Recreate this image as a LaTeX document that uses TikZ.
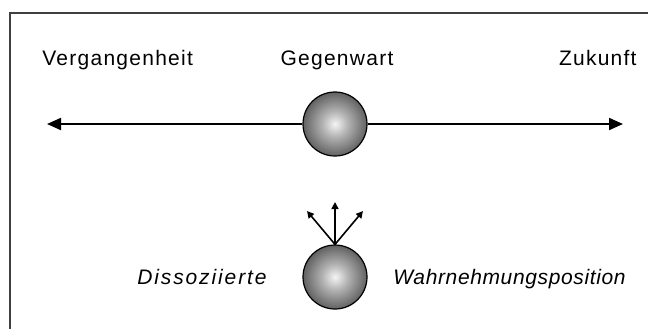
\documentclass[tikz,border=0pt]{standalone}
\usepackage{fontspec}
\setmainfont{Liberation Sans}
\newfontfamily\spacedfont[LetterSpace=6]{Liberation Sans}
\newfontfamily\widefont[LetterSpace=9]{Liberation Sans}
\newfontfamily\slightfont[LetterSpace=3]{Liberation Sans}
\usetikzlibrary{arrows.meta}
\pgfdeclareradialshading{sphere}{\pgfpoint{0bp}{0bp}}{%
  color(0bp)=(black!4); color(10bp)=(black!30); color(25bp)=(black!62); color(50bp)=(black!62)}
\begin{document}
\begin{tikzpicture}[x=0.5pt,y=-0.5pt,
    ball/.style={draw=black,circle,line width=0.6pt,minimum size=32pt,inner sep=0pt,shading=sphere},
    axis/.style={-{Triangle[length=7pt,width=6pt]},line width=1pt},
    look/.style={-{Triangle[length=3.5pt,width=3.5pt]},line width=0.8pt},
    label/.style={font=\spacedfont\fontsize{10.5}{12}\selectfont,inner sep=0pt,anchor=base}]
  \useasboundingbox (0,0) rectangle (648,329);
  % frame
  \draw[line width=0.75pt,black!75] (10,329) -- (10,13) -- (648,13);
  % time line
  \node[ball] (now) at (335,124) {};
  \coordinate (past) at (47,124);
  \coordinate (future) at (623,124);
  \draw[axis] (now.west) -- (past);
  \draw[axis] (now.east) -- (future);
  \node[label,anchor=base west] (pastlbl) at (42,65) {Vergangenheit};
  \node[label] (nowlbl) at (337,65) {Gegenwart};
  \node[label,anchor=base east] (futurelbl) at (637,65) {Zukunft};
  % dissociated position
  \node[ball] (self) at (335,277) {};
  \coordinate (lookl) at (307,211);
  \coordinate (lookm) at (335,202);
  \coordinate (lookr) at (363,211);
  \draw[look] (self.north) -- (lookl);
  \draw[look] (self.north) -- (lookm);
  \draw[look] (self.north) -- (lookr);
  \node[font=\widefont\itshape\fontsize{10.5}{12}\selectfont,inner sep=0pt,anchor=base east] (dissolbl) at (267,284) {Dissoziierte};
  \node[font=\slightfont\itshape\fontsize{10.5}{12}\selectfont,inner sep=0pt,anchor=base west] (poslbl) at (393,284) {Wahrnehmungsposition};
\end{tikzpicture}
\end{document}
